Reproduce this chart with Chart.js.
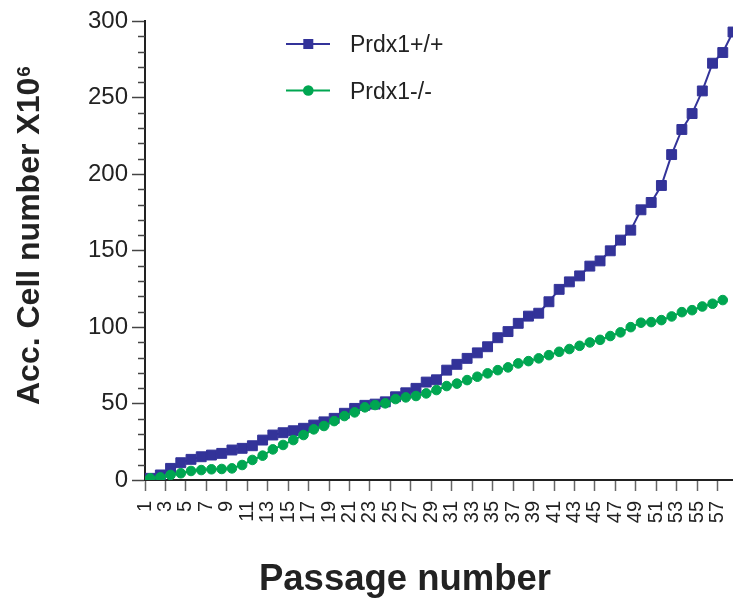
<!DOCTYPE html>
<html>
<head>
<meta charset="utf-8">
<title>Accumulated cell number by passage</title>
<script src="https://cdn.jsdelivr.net/npm/chart.js@4.4.1/dist/chart.umd.min.js"></script>
<style>
  html, body { margin: 0; padding: 0; background: #fff; }
  #wrap { position: relative; width: 733px; height: 600px; }
</style>
</head>
<body>
<div id="wrap"><canvas id="passageChart" width="733" height="600"></canvas></div>
<script>
// passage numbers (x) and the odd-numbered tick labels shown under the axis
const passages = [
  1, 2, 3, 4, 5, 6, 7, 8, 9, 10, 11, 12, 13, 14, 15, 16, 17, 18, 19, 20,
  21, 22, 23, 24, 25, 26, 27, 28, 29, 30, 31, 32, 33, 34, 35, 36, 37, 38, 39, 40,
  41, 42, 43, 44, 45, 46, 47, 48, 49, 50, 51, 52, 53, 54, 55, 56, 57, 58
];
const tickLabels = [1, 3, 5, 7, 9, 11, 13, 15, 17, 19, 21, 23, 25, 27, 29, 31, 33, 35, 37, 39, 41, 43, 45, 47, 49, 51, 53, 55, 57];
const yTickStep = 50;
const yMax = 300;

const seriesNames = ["Prdx1+/+", "Prdx1-/-"];

// Prdx1+/+ accumulated cells (x10^6)
const wildType = [
  1.1, 3.3, 7.6, 11.3, 13.5, 15.2, 16.3, 17.4, 19.6, 20.7,
  22.4, 26.1, 29.4, 30.9, 32.2, 33.8, 35.9, 38.0, 40.3, 43.6,
  46.8, 48.8, 49.6, 51.1, 54.4, 57.0, 59.9, 64.0, 65.5, 71.8,
  75.6, 79.5, 83.1, 87.1, 93.0, 97.0, 102.4, 107.1, 109.0, 116.5,
  124.6, 129.5, 133.4, 139.8, 143.2, 149.8, 156.8, 163.3, 176.6, 181.4,
  192.5, 212.7, 229.1, 239.5, 254.3, 272.4, 279.4, 292.8
];
// Prdx1-/- accumulated cells (x10^6)
const knockout = [
  1.1, 1.7, 3.3, 4.4, 5.9, 6.5, 7.0, 7.2, 7.6, 9.8,
  13.1, 15.9, 20.0, 22.9, 26.1, 29.4, 33.1, 35.3, 38.5, 41.8,
  44.2, 47.5, 49.0, 50.1, 52.9, 54.0, 54.9, 56.6, 58.8, 61.4,
  63.0, 65.3, 67.5, 69.7, 71.8, 73.6, 76.2, 77.7, 79.5, 81.6,
  83.8, 85.6, 87.7, 89.9, 91.6, 94.1, 96.5, 99.9, 102.8, 103.2,
  104.5, 106.9, 109.7, 111.0, 113.4, 115.2, 117.6
];

const BLUE = "#333399";
const GREEN = "#00a651";
const INK = "#222";
const FONT = "'Liberation Sans', Arial, Helvetica, sans-serif";

const toPoints = (vals) => vals.map((v, i) => ({ x: passages[i], y: v }));

// minor y ticks, axis titles and the legend box
const extras = {
  id: "extras",
  afterDraw(chart) {
    const ctx = chart.ctx;
    const area = chart.chartArea;
    const y = chart.scales.y;

    ctx.save();
    ctx.strokeStyle = "#444";
    ctx.lineWidth = 1.5;
    for (let v = 0; v <= yMax; v += 10) {
      if (v % yTickStep === 0) continue;
      const py = Math.round(y.getPixelForValue(v)) + 0.5;
      ctx.beginPath();
      ctx.moveTo(area.left - 7, py);
      ctx.lineTo(area.left, py);
      ctx.stroke();
    }
    ctx.restore();

    // y title with superscript
    ctx.save();
    ctx.fillStyle = INK;
    ctx.translate(38.5, 405);
    ctx.rotate(-Math.PI / 2);
    ctx.textAlign = "left";
    ctx.textBaseline = "alphabetic";
    ctx.font = "bold 32px " + FONT;
    const main = "Acc. Cell number X10";
    ctx.fillText(main, 0, 0);
    const w = ctx.measureText(main).width;
    ctx.font = "bold 19px " + FONT;
    ctx.fillText("6", w + 1, -9);
    ctx.restore();

    // x title
    ctx.save();
    ctx.fillStyle = INK;
    ctx.font = "bold 36.5px " + FONT;
    ctx.textAlign = "center";
    ctx.textBaseline = "alphabetic";
    ctx.fillText("Passage number", 405, 590);
    ctx.restore();

    // legend
    const rows = [44, 90.5];
    chart.data.datasets.forEach((ds, i) => {
      const ly = rows[i];
      ctx.save();
      ctx.strokeStyle = ds.borderColor;
      ctx.fillStyle = ds.borderColor;
      ctx.lineWidth = 2;
      ctx.beginPath();
      ctx.moveTo(286, ly);
      ctx.lineTo(330, ly);
      ctx.stroke();
      ctx.beginPath();
      if (ds.pointStyle === "rect") {
        ctx.rect(303.3, ly - 5, 10, 10);
      } else {
        ctx.arc(308.3, ly, 5.3, 0, Math.PI * 2);
      }
      ctx.fill();
      ctx.fillStyle = INK;
      ctx.font = "23px " + FONT;
      ctx.textAlign = "left";
      ctx.textBaseline = "alphabetic";
      ctx.fillText(ds.label, 350, ly + 8);
      ctx.restore();
    });
  }
};

new Chart(document.getElementById("passageChart"), {
  type: "line",
  data: {
    datasets: [
      {
        label: seriesNames[0],
        data: toPoints(wildType),
        borderColor: BLUE,
        backgroundColor: BLUE,
        borderWidth: 2,
        pointStyle: "rect",
        pointRadius: 7,
        pointBorderWidth: 1,
        pointBackgroundColor: BLUE,
        pointBorderColor: BLUE,
        tension: 0,
        order: 1,
      },
      {
        label: seriesNames[1],
        data: toPoints(knockout),
        borderColor: GREEN,
        backgroundColor: GREEN,
        borderWidth: 2,
        pointStyle: "circle",
        pointRadius: 4.8,
        pointBorderWidth: 1,
        pointBackgroundColor: GREEN,
        pointBorderColor: GREEN,
        tension: 0,
        order: 0,
      },
    ],
  },
  options: {
    responsive: false,
    animation: false,
    events: [],
    layout: {
      autoPadding: false,
      padding: { top: 21, right: 0, bottom: 0, left: 0 },
    },
    plugins: {
      legend: { display: false },
      tooltip: { enabled: false },
    },
    scales: {
      x: {
        type: "linear",
        min: 0.5,
        max: 58,
        afterBuildTicks: (scale) => {
          scale.ticks = tickLabels.map((n) => ({ value: n - 0.5 }));
        },
        afterFit: (scale) => {
          scale.height = 120;
          scale.paddingLeft = 0;
          scale.paddingRight = 0;
        },
        border: { display: true, color: INK, width: 2 },
        grid: {
          drawOnChartArea: false,
          drawTicks: true,
          tickLength: 11,
          tickColor: "#666",
          tickWidth: 1.5,
        },
        ticks: {
          autoSkip: false,
          minRotation: 90,
          maxRotation: 90,
          padding: 10,
          color: INK,
          font: { family: FONT, size: 20 },
          callback: (value, index) => String(tickLabels[index]),
        },
      },
      y: {
        min: 0,
        max: yMax,
        afterFit: (scale) => {
          scale.width = 145;
          scale.paddingTop = 0;
          scale.paddingBottom = 0;
        },
        border: { display: true, color: INK, width: 2 },
        grid: {
          drawOnChartArea: false,
          tickLength: 13,
          tickColor: "#444",
          tickWidth: 1.5,
        },
        ticks: {
          stepSize: yTickStep,
          padding: 4,
          color: INK,
          font: { family: FONT, size: 24 },
        },
      },
    },
  },
  plugins: [extras],
});
</script>
</body>
</html>
